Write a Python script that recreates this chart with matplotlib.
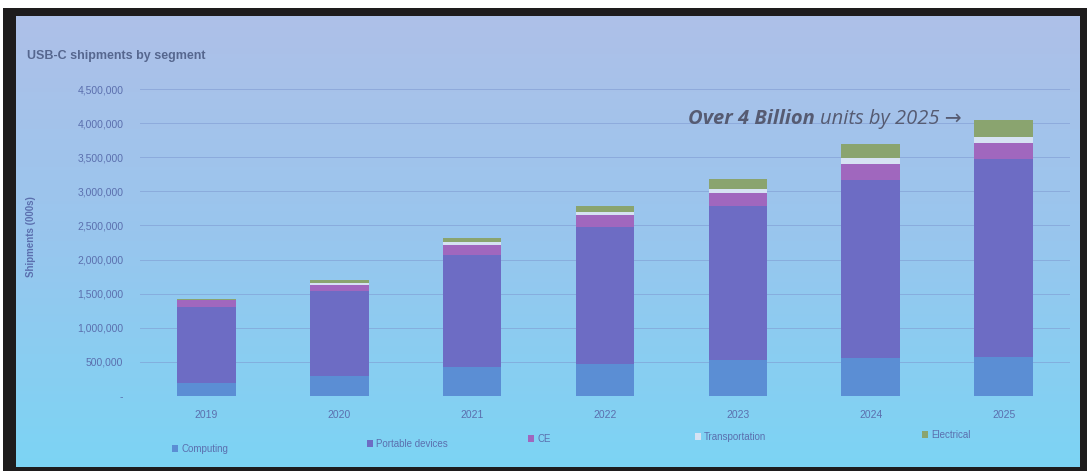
import numpy as np
import matplotlib
matplotlib.use("Agg")
import matplotlib.pyplot as plt
from matplotlib.patches import Patch
from matplotlib.ticker import FuncFormatter

plt.rcParams['font.family'] = ['Liberation Sans', 'DejaVu Sans']

# Data (thousands of units)
years = ['2019', '2020', '2021', '2022', '2023', '2024', '2025']
computing = [190000, 300000, 420000, 470000, 530000, 550000, 570000]
portable = [1120000, 1240000, 1650000, 2000000, 2260000, 2620000, 2900000]
ce = [90000, 90000, 145000, 180000, 180000, 230000, 240000]
transportation = [10000, 20000, 40000, 45000, 60000, 90000, 80000]
electrical = [10000, 50000, 55000, 90000, 150000, 200000, 260000]

series = ['Computing', 'Portable devices', 'CE', 'Transportation', 'Electrical']
colors = ['#5b8ed4', '#6d6cc4', '#a067be', '#d6e2f3', '#8aa46f']
yticks = [0, 500000, 1000000, 1500000, 2000000, 2500000, 3000000, 3500000, 4000000, 4500000]

W, H = 1090, 471
fig = plt.figure(figsize=(W / 100, H / 100), dpi=100, facecolor='white')

# photo frame + slide background gradient
frame = fig.add_axes([3 / W, 0, (1087 - 3) / W, (471 - 8) / H])
frame.set_facecolor('#1e1c1d')
frame.set_xticks([])
frame.set_yticks([])
for s in frame.spines.values():
    s.set_visible(False)

bg = fig.add_axes([16 / W, 1 - 467 / H, (1080 - 16) / W, (467 - 16) / H])
grad = np.linspace(0, 1, 256)[:, None, None]
top = np.array([0xae, 0xc0, 0xe8]) / 255
mid = np.array([0x98, 0xc6, 0xee]) / 255
bot = np.array([0x7c, 0xd4, 0xf4]) / 255
img = np.where(grad < 0.5, top + (mid - top) * (grad / 0.5), mid + (bot - mid) * ((grad - 0.5) / 0.5))
img = np.repeat(img, 4, axis=1)
bg.imshow(img, aspect='auto', extent=[0, 1, 0, 1])
bg.axis('off')

# chart
ax = fig.add_axes([140 / W, 1 - 396 / H, (1070 - 140) / W, (396 - 89) / H])
ax.patch.set_alpha(0)
x = np.arange(len(years))
bottom = np.zeros(len(years))
for name, vals, c in zip(series, [computing, portable, ce, transportation, electrical], colors):
    ax.bar(x, vals, 0.44, bottom=bottom, color=c, label=name, zorder=3)
    bottom += np.array(vals)

ax.set_ylim(0, 4500000)
ax.set_xlim(-0.5, len(years) - 0.5)
ax.set_yticks(yticks)
ax.yaxis.set_major_formatter(FuncFormatter(lambda v, p: '-' if v == 0 else f'{int(v):,}'))
ax.set_xticks(x)
ax.set_xticklabels(years)
ax.tick_params(axis='both', length=0, labelsize=7.5, colors='#5b6fae')
ax.tick_params(axis='x', pad=10)
ax.tick_params(axis='y', pad=12)
ax.grid(axis='y', color='#7f9bd2', lw=0.7, alpha=0.6, zorder=0)
for s in ax.spines.values():
    s.set_visible(False)
ax.set_ylabel('Shipments (000s)', fontsize=7, color='#5b6fae', fontweight='bold')
ax.yaxis.set_label_coords(-0.112, 0.52)

fig.text(27 / W, 1 - 56 / H, 'USB-C shipments by segment', fontsize=9, fontweight='bold',
         color='#56678f', ha='left', va='center')

# annotation
t1 = fig.text(688 / W, 1 - 119 / H, 'Over 4 Billion', fontsize=14.5, fontweight='bold', style='italic',
              color='#565b72', ha='left', va='center', family=['Open Sans', 'DejaVu Sans'])
fig.canvas.draw()
bb = t1.get_window_extent()
fig.text((bb.x1 + 5) / W, 1 - 119 / H, 'units by 2025 \u2192', fontsize=14.5, style='italic',
         color='#565b72', ha='left', va='center', family=['Open Sans', 'DejaVu Sans'])

# legend entries spread along the bottom of the slide
leg_pos = [(172, 449), (367, 444), (528, 439), (695, 437), (922, 435)]
for n, c, (lx, ly) in zip(series, colors, leg_pos):
    fig.legend(handles=[Patch(facecolor=c, label=n)], loc='center left',
               bbox_to_anchor=(lx / W, 1 - ly / H), frameon=False, fontsize=7,
               handlelength=0.6, handleheight=0.6, handletextpad=0.35,
               borderpad=0, borderaxespad=0, labelcolor='#5b6fae')

fig.savefig('out.png', dpi=100)
